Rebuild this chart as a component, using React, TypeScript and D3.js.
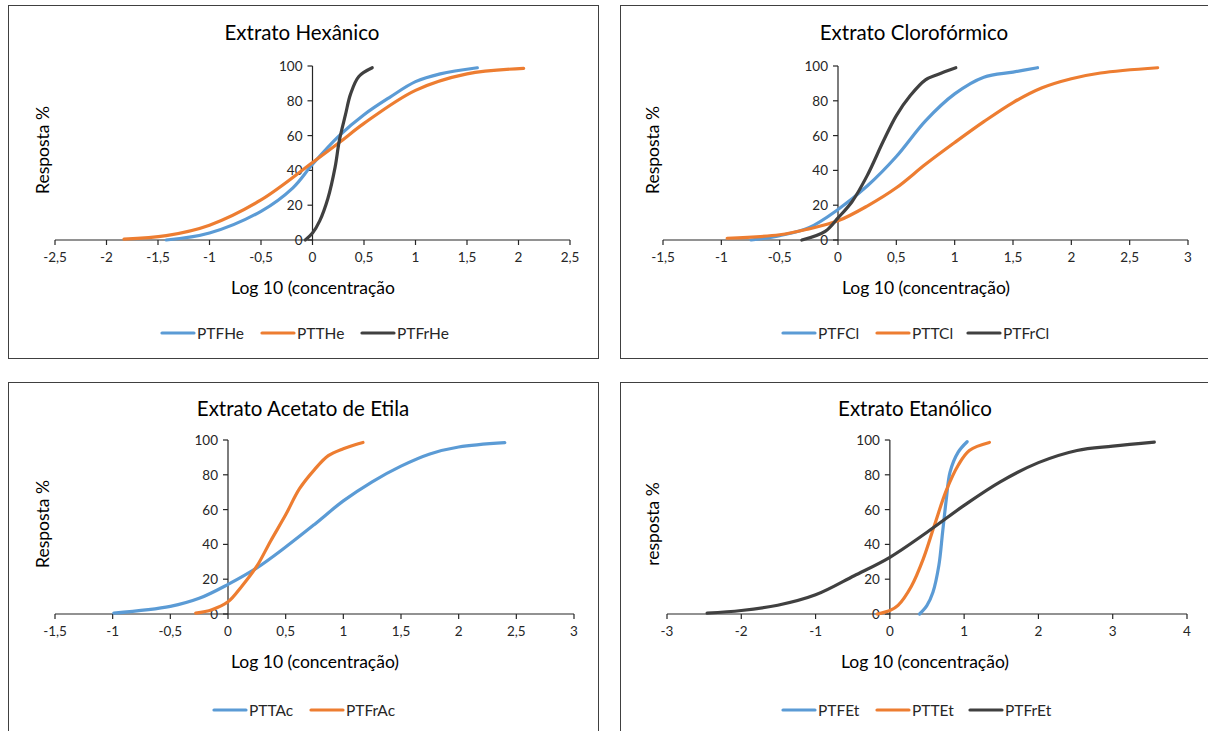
import React from "react";
import * as d3 from "d3";

// ---- data (log10 concentration, response %) ----

// Extrato Hexânico
const ptfHe = [[-1.42, 0], [-1, 4], [-0.5, 16.5], [-0.19, 30], [0, 43.5], [0.26, 60], [0.5, 72], [0.75, 82], [1, 91], [1.24, 95.5], [1.6, 99]];
const pttHe = [[-1.83, 0.5], [-1.42, 2.5], [-1, 8.5], [-0.5, 23], [0, 44.5], [0.26, 56], [0.5, 67], [1, 86], [1.5, 95.5], [2.05, 98.6]];
const ptfrHe = [[-0.07, 0], [0, 4], [0.07, 11], [0.15, 24], [0.22, 42], [0.26, 57], [0.32, 72], [0.37, 84], [0.45, 94], [0.58, 99]];

// Extrato Clorofórmico
const ptfCl = [[-0.745, 0], [-0.5, 2.5], [-0.25, 7], [0, 17.5], [0.25, 31], [0.5, 48], [0.75, 68.5], [1, 84], [1.25, 93.6], [1.5, 96.5], [1.71, 99]];
const pttCl = [[-0.95, 1], [-0.5, 3], [-0.25, 6.4], [0, 11], [0.25, 19.5], [0.5, 30], [0.75, 43.5], [1, 56], [1.25, 68], [1.5, 79], [1.75, 87.5], [2, 92.7], [2.25, 96], [2.74, 99]];
const ptfrCl = [[-0.31, 0], [-0.11, 5], [0, 12.7], [0.12, 22], [0.25, 37], [0.39, 57], [0.5, 71.5], [0.62, 83], [0.75, 92], [0.85, 95], [1.01, 99]];

// Extrato Acetato de Etila
const pttAc = [[-0.99, 0.5], [-0.5, 4.4], [-0.25, 9], [0, 17], [0.25, 26.5], [0.5, 38.5], [0.75, 51.5], [1, 65], [1.25, 76], [1.5, 85], [1.75, 92], [2, 96], [2.4, 98.5]];
const ptfrAc = [[-0.28, 0.5], [-0.14, 2.5], [0, 7], [0.12, 16], [0.25, 27.5], [0.37, 42], [0.5, 57], [0.62, 72], [0.75, 83], [0.87, 91], [1, 95], [1.17, 98.6]];

// Extrato Etanólico
const ptfEt = [[0.4, 0], [0.5, 5], [0.58, 12.5], [0.66, 28], [0.71, 47], [0.76, 66], [0.81, 81.5], [0.92, 93], [1.04, 99]];
const pttEt = [[-0.17, 0], [0, 2], [0.11, 5], [0.29, 16], [0.45, 31.7], [0.6, 51], [0.76, 71], [0.92, 85.5], [1.07, 94], [1.34, 98.6]];
const ptfrEt = [[-2.46, 0.5], [-2, 2], [-1.51, 5], [-1, 11], [-0.48, 22], [0, 32.6], [0.5, 47], [1, 62.4], [1.48, 75.8], [2, 87], [2.52, 94], [3, 96.5], [3.56, 98.8]];

const yTicks = [0, 20, 40, 60, 80, 100];
const ticksHe = [-2.5, -2, -1.5, -1, -0.5, 0, 0.5, 1, 1.5, 2, 2.5];
const ticksCl = [-1.5, -1, -0.5, 0, 0.5, 1, 1.5, 2, 2.5, 3];
const ticksAc = [-1.5, -1, -0.5, 0, 0.5, 1, 1.5, 2, 2.5, 3];
const ticksEt = [-3, -2, -1, 0, 1, 2, 3, 4];

const BLUE = "#5b9bd5";
const ORANGE = "#ed7d31";
const DARK = "#404040";
const FONT = "Lato, 'Open Sans', sans-serif";

const panels = [
  {
    title: "Extrato Hexânico", yTitle: "Resposta %", xTitle: "Log 10 (concentração",
    box: [8, 5, 598, 358], xPx: [55, 570], yPx: [240, 66], ticks: ticksHe,
    titleX: 302, titleY: 32, yTitleX: 42, xTitleX: 313, xTitleY: 287, legendY: 333, legendX: [162, 262, 362],
    series: [{ name: "PTFHe", data: ptfHe, color: BLUE }, { name: "PTTHe", data: pttHe, color: ORANGE }, { name: "PTFrHe", data: ptfrHe, color: DARK }],
  },
  {
    title: "Extrato Clorofórmico", yTitle: "Resposta %", xTitle: "Log 10 (concentração)",
    box: [620, 5, 1212, 358], xPx: [663, 1188], yPx: [240, 66], ticks: ticksCl,
    titleX: 914, titleY: 32, yTitleX: 652, xTitleX: 926, xTitleY: 287, legendY: 333, legendX: [783, 877, 968],
    series: [{ name: "PTFCl", data: ptfCl, color: BLUE }, { name: "PTTCl", data: pttCl, color: ORANGE }, { name: "PTFrCl", data: ptfrCl, color: DARK }],
  },
  {
    title: "Extrato Acetato de Etila", yTitle: "Resposta %", xTitle: "Log 10 (concentração)",
    box: [8, 382, 598, 740], xPx: [55, 574], yPx: [614, 440], ticks: ticksAc,
    titleX: 303, titleY: 408, yTitleX: 42, xTitleX: 315, xTitleY: 661, legendY: 710, legendX: [214, 311],
    series: [{ name: "PTTAc", data: pttAc, color: BLUE }, { name: "PTFrAc", data: ptfrAc, color: ORANGE }],
  },
  {
    title: "Extrato Etanólico", yTitle: "resposta %", xTitle: "Log 10 (concentração)",
    box: [620, 382, 1212, 740], xPx: [667, 1187], yPx: [614, 440], ticks: ticksEt,
    titleX: 915, titleY: 408, yTitleX: 652, xTitleX: 925, xTitleY: 661, legendY: 710, legendX: [783, 877, 970],
    series: [{ name: "PTFEt", data: ptfEt, color: BLUE }, { name: "PTTEt", data: pttEt, color: ORANGE }, { name: "PTFrEt", data: ptfrEt, color: DARK }],
  },
];

const fmt = (v: number) => String(v).replace(".", ",");

function Panel({ p }: { p: any }) {
  const [x0, y0, x1, y1] = p.box;
  const xScale = d3.scaleLinear().domain([p.ticks[0], p.ticks[p.ticks.length - 1]]).range(p.xPx);
  const yScale = d3.scaleLinear().domain([0, 100]).range(p.yPx);
  const line = d3.line<number[]>().x((d) => xScale(d[0])).y((d) => yScale(d[1])).curve(d3.curveCatmullRom.alpha(0.5));
  const axisX = xScale(0);
  const baseY = yScale(0);

  return (
    <g>
      <rect x={x0 + 0.5} y={y0 + 0.5} width={x1 - x0} height={y1 - y0} fill="#fff" stroke="#404040" strokeWidth={1} />
      <text x={p.titleX} y={p.titleY} textAnchor="middle" dominantBaseline="central" fontSize={20.5} fill="#000">{p.title}</text>

      {/* x axis */}
      <line x1={p.xPx[0]} x2={p.xPx[1]} y1={baseY} y2={baseY} stroke="#262626" strokeWidth={1.2} />
      {p.ticks.map((t: number) => (
        <g key={"xt" + t}>
          <line x1={xScale(t)} x2={xScale(t)} y1={baseY} y2={baseY + 5} stroke="#262626" strokeWidth={1.2} />
          <text x={xScale(t)} y={baseY + 22} textAnchor="middle" fontSize={13.5} fill="#262626">{fmt(t)}</text>
        </g>
      ))}

      {/* y axis */}
      <line x1={axisX} x2={axisX} y1={yScale(100)} y2={baseY} stroke="#262626" strokeWidth={1.2} />
      {yTicks.map((t) => (
        <g key={"yt" + t}>
          <line x1={axisX - 5} x2={axisX} y1={yScale(t)} y2={yScale(t)} stroke="#262626" strokeWidth={1.2} />
          <text x={axisX - 10} y={yScale(t)} textAnchor="end" dominantBaseline="central" fontSize={13.5} fill="#262626">{t}</text>
        </g>
      ))}

      {p.series.map((s: any) => (
        <path key={s.name} d={line(s.data) || ""} fill="none" stroke={s.color} strokeWidth={3.2} strokeLinecap="round" />
      ))}

      <text x={p.xTitleX} y={p.xTitleY} textAnchor="middle" dominantBaseline="central" fontSize={17.5} fill="#000">{p.xTitle}</text>
      <text transform={`translate(${p.yTitleX},${(p.yPx[0] + p.yPx[1]) / 2 - 3}) rotate(-90)`} textAnchor="middle" dominantBaseline="central" fontSize={17.5} fill="#000">{p.yTitle}</text>

      {p.series.map((s: any, i: number) => (
        <g key={"lg" + s.name}>
          <line x1={p.legendX[i]} x2={p.legendX[i] + 32} y1={p.legendY} y2={p.legendY} stroke={s.color} strokeWidth={3.2} strokeLinecap="round" />
          <text x={p.legendX[i] + 35} y={p.legendY} dominantBaseline="central" fontSize={15.5} fill="#262626">{s.name}</text>
        </g>
      ))}
    </g>
  );
}

export default function App() {
  return (
    <svg width={1208} height={731} style={{ position: "absolute", left: 0, top: 0, fontFamily: FONT }}>
      <rect width={1208} height={731} fill="#fff" />
      {panels.map((p) => (
        <Panel key={p.title} p={p} />
      ))}
    </svg>
  );
}
